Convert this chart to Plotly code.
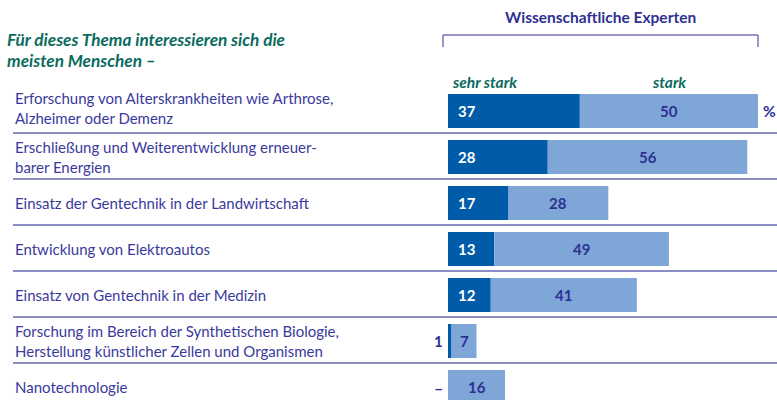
import plotly.graph_objects as go

categories = [
    "Erforschung von Alterskrankheiten wie Arthrose,<br>Alzheimer oder Demenz",
    "Erschließung und Weiterentwicklung erneuer-<br>barer Energien",
    "Einsatz der Gentechnik in der Landwirtschaft",
    "Entwicklung von Elektroautos",
    "Einsatz von Gentechnik in der Medizin",
    "Forschung im Bereich der Synthetischen Biologie,<br>Herstellung künstlicher Zellen und Organismen",
    "Nanotechnologie",
]
sehr_stark = [37, 28, 17, 13, 12, 1, 0]
stark = [50, 56, 28, 49, 41, 7, 16]
sehr_stark_labels = ["37", "28", "17", "13", "12", "1", "–"]
stark_labels = ["50", "56", "28", "49", "41", "7", "16"]

DARK = "#005ca9"
LIGHT = "#7ea7d8"
NAVY = "#2e3192"
LABEL = "#3a3a9c"
TEAL = "#0b6b5e"
SEP = "#8c8cc6"
FONT = "Lato"

W, H = 777, 400
# pixel layout: value 0 at x=448px, 87 at x=758px
px_per_unit = 310 / 87
x0 = -448 / px_per_unit
x1 = x0 + W / px_per_unit
# rows: centre of first row at 111px, pitch 46px
pitch = 46
r_top = -111 / pitch
r_bot = r_top + H / pitch

idx = list(range(len(categories)))

fig = go.Figure()
fig.add_trace(go.Bar(
    y=idx, x=sehr_stark, orientation="h", marker=dict(color=DARK, line=dict(width=0)),
    name="sehr stark", hoverinfo="skip",
))
fig.add_trace(go.Bar(
    y=idx, x=stark, base=sehr_stark, orientation="h",
    marker=dict(color=LIGHT, line=dict(width=0)),
    name="stark", hoverinfo="skip",
))

annotations = []
for i, cat in enumerate(categories):
    annotations.append(dict(
        x=13 / W, xref="paper", y=i, yref="y", text=cat, showarrow=False,
        xanchor="left", yanchor="middle", align="left", yshift=3 if i == 0 else 0,
        font=dict(family=FONT, size=15, color=LABEL),
    ))
    d = sehr_stark[i]
    if d >= 5:
        annotations.append(dict(
            x=0, y=i, xref="x", yref="y", text="<b>%s</b>" % sehr_stark_labels[i],
            showarrow=False, xanchor="left", xshift=8,
            font=dict(family=FONT, size=15, color="white"),
        ))
    else:
        annotations.append(dict(
            x=0, y=i, xref="x", yref="y", text="<b>%s</b>" % sehr_stark_labels[i],
            showarrow=False, xanchor="right", xshift=-3,
            font=dict(family=FONT, size=16 if sehr_stark_labels[i] == "–" else 15, color=NAVY),
        ))
    annotations.append(dict(
        x=d + stark[i] / 2, y=i, xref="x", yref="y", text="<b>%s</b>" % stark_labels[i],
        showarrow=False, xanchor="center",
        font=dict(family=FONT, size=15, color=NAVY),
    ))

# percent sign
annotations.append(dict(
    x=sehr_stark[0] + stark[0], y=0, xref="x", yref="y", text="<b>%</b>",
    showarrow=False, xanchor="left", xshift=3,
    font=dict(family=FONT, size=15.5, color=NAVY),
))
# series headers
annotations.append(dict(
    x=0, y=-0.62, xref="x", yref="y", text="<b><i>sehr stark</i></b>", showarrow=False,
    xanchor="left", xshift=2, font=dict(family=FONT, size=15.5, color=TEAL),
))
annotations.append(dict(
    x=sehr_stark[0] + stark[0] / 2, y=-0.62, xref="x", yref="y", text="<b><i>stark</i></b>",
    showarrow=False, xanchor="center", font=dict(family=FONT, size=15.5, color=TEAL),
))
# titles
annotations.append(dict(
    x=600 / W, y=1 - 17 / H, xref="paper", yref="paper", text="<b>Wissenschaftliche Experten</b>",
    showarrow=False, xanchor="center", yanchor="middle",
    font=dict(family=FONT, size=15.5, color=NAVY),
))
annotations.append(dict(
    x=5 / W, y=1 - 40 / H, xref="paper", yref="paper",
    text="<b><i>Für dieses Thema interessieren sich die</i></b>",
    showarrow=False, xanchor="left", yanchor="middle",
    font=dict(family=FONT, size=17.2, color=TEAL),
))
annotations.append(dict(
    x=5 / W, y=1 - 61 / H, xref="paper", yref="paper",
    text="<b><i>meisten Menschen –</i></b>",
    showarrow=False, xanchor="left", yanchor="middle",
    font=dict(family=FONT, size=17.2, color=TEAL),
))

shapes = []
for i in range(len(categories) - 1):
    shapes.append(dict(
        type="line", xref="paper", yref="y", x0=13 / W, x1=1, y0=i + 0.48, y1=i + 0.48,
        line=dict(color=SEP, width=2),
    ))
# bracket above the expert columns
shapes.append(dict(
    type="path", xref="paper", yref="paper",
    path="M %f %f L %f %f L %f %f L %f %f" % (
        443 / W, 1 - 47 / H, 443 / W, 1 - 35 / H, 758 / W, 1 - 35 / H, 758 / W, 1 - 47 / H),
    line=dict(color=NAVY, width=1),
))

fig.update_layout(
    width=W, height=H, margin=dict(l=0, r=0, t=0, b=0),
    paper_bgcolor="white", plot_bgcolor="white",
    barmode="overlay", bargap=0.26, showlegend=False,
    xaxis=dict(range=[x0, x1], visible=False, fixedrange=True),
    yaxis=dict(range=[r_bot, r_top], visible=False, fixedrange=True),
    annotations=annotations, shapes=shapes,
)

fig.write_html("out.html", config={"displayModeBar": False},
               post_script="document.body.style.margin='0';")
